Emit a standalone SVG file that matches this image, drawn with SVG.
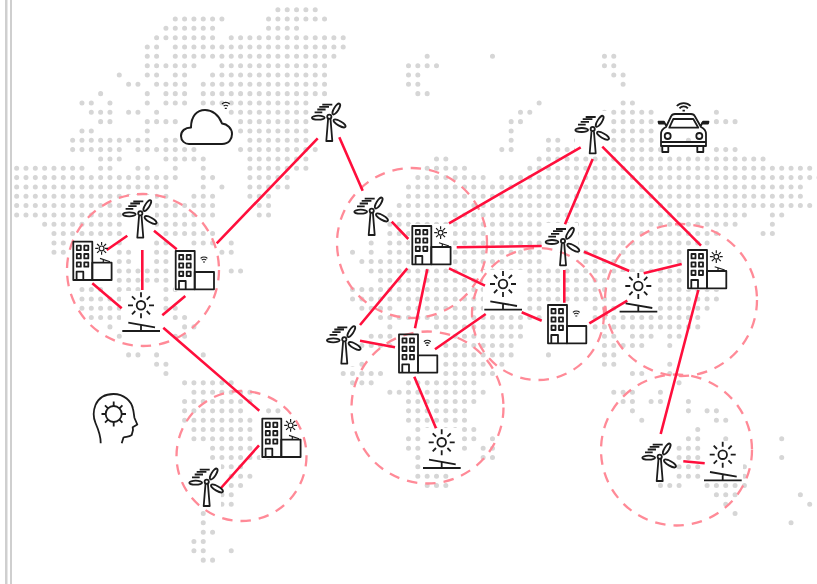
<svg xmlns="http://www.w3.org/2000/svg" xmlns:xlink="http://www.w3.org/1999/xlink" width="817" height="584" viewBox="0 0 817 584">
<style>
.dots{fill:none;stroke:#d6d6d6;stroke-width:.54;stroke-linecap:round;stroke-dasharray:0 1}
.zone{fill:none;stroke:#ff8a97;stroke-width:2.3;stroke-dasharray:10.5 8}
.link{fill:none;stroke:#ff0f3c;stroke-width:2.6}
.ic{fill:none;stroke:#1c1c1c;stroke-width:1.8;stroke-linejoin:round}
.thin{fill:none;stroke:#1c1c1c;stroke-width:1.2}
.wh{fill:#fff;stroke:#1c1c1c;stroke-width:2;stroke-linejoin:round}
</style>
<defs>
<g id="wifi-s"><path class="thin" stroke-width="1.3" d="M-3.4 -3.6A5 5 0 0 1 3.4 -3.6M-2.2 -1.8A3 3 0 0 1 2.2 -1.8M-1 0H1"/></g>
<g id="bld"><rect class="ic" width="19" height="38.3"/><rect class="ic" x="19" y="21" width="19.3" height="17.3"/><path class="ic" stroke-width="1.4" d="M3.5 4h4v4.4h-4zM11 4h4v4.4h-4zM3.5 12.3h4v4.4h-4zM11 12.3h4v4.4h-4zM3.5 20.6h4v4.4h-4zM11 20.6h4v4.4h-4zM3.3 38.3v-8.3h6.7v8.3"/></g>
<g id="bld-wifi"><use xlink:href="#bld"/><use xlink:href="#wifi-s" x="28.3" y="11"/></g>
<g id="bld-solar"><use xlink:href="#bld"/><circle class="thin" cx="28.3" cy="6.7" r="2.4"/><path class="thin" d="M28.3 .3v3M28.3 10v3M21.9 6.7h3M31.7 6.7h3M23.8 2.2l2.1 2.1M30.7 9.1l2.1 2.1M23.8 11.2l2.1-2.1M30.7 4.3l2.1-2.1"/><path class="thin" stroke-width="1.4" d="M26.7 16.7l10 3.3M30 17.8v3.2"/></g>
<g id="turbine"><path class="ic" stroke-width="1.5" d="M-1.2 2.2L-3 24.3H3L1.2 2.2"/><circle class="ic" stroke-width="1.5" r="2.1"/><ellipse class="ic" stroke-width="1.5" cx="7" cy="-7.7" rx="6.3" ry="2.2" transform="rotate(-58 7 -7.7)"/><ellipse class="ic" stroke-width="1.5" cx="-11" cy="1" rx="6.4" ry="2"/><ellipse class="ic" stroke-width="1.5" cx="10.3" cy="6.7" rx="6.8" ry="2.3" transform="rotate(30 10.3 6.7)"/><path class="ic" stroke-width="1.4" d="M-7 -12H3M-10 -9.8H-.3M-12 -7.2H-3.7M-14.7 -4.4H-7"/></g>
<g id="sun"><circle class="ic" r="4.3"/><path class="ic" d="M0 -13V-8M0 8V13M-13 0H-8M8 0H13M-9 -9L-5.7 -5.7M5.7 5.7L9 9M-9 9L-5.7 5.7M5.7 -5.7L9 -9M-18.7 25.7H19M-12.7 17.3L14 22M0 20V25.7"/></g>
</defs>
<rect width="817" height="584" fill="#fff"/>
<path fill="#cfcfcf" d="M5 0h2.5v584H5zM10 0h2v584h-2z"/>
<g transform="translate(7.33 9.67) scale(9.33)"><path class="dots" d="M29 0H33.01
M18 1H23.01M28 1H34.01
M17 2H22.01M28 2H31.01
M16 3H22.01M24 3H36.01
M15 4H16.01M18 4H36.01
M15 5H16.01M18 5H35.01M45 5h.01M52 5h.01M64 5H65.01
M15 6H20.01M23 6H34.01M43 6H46.01M64 6H65.01
M12 7h.01M15 7H16.01M18 7H19.01M22 7H34.01M43 7H44.01M65 7H66.01
M13 8H14.01M16 8H19.01M21 8H34.01M43 8H44.01M66 8h.01
M10 9h.01M15 9h.01M17 9H19.01M21 9H34.01M44 9H45.01
M8 10H9.01M11 10h.01M15 10h.01M17 10H19.01M21 10H34.01M57 10h.01M66 10H67.01
M9 11H11.01M13 11H14.01M16 11h.01M24 11H32.01M55 11H56.01M64 11H69.01M76 11h.01
M10 12H11.01M15 12H18.01M25 12H32.01M54 12H55.01M64 12H69.01M76 12H78.01
M8 13H9.01M15 13h.01M25 13H32.01M54 13h.01M65 13H69.01
M7 14H15.01M17 14H18.01M26 14H33.01M54 14h.01M58 14H59.01M61 14h.01M65 14H69.01M73 14h.01
M7 15H12.01M14 15H20.01M25 15H33.01M53 15H54.01M58 15H61.01M65 15H70.01M76 15H78.01
M10 16H12.01M17 16H21.01M26 16H32.01M46 16H47.01M57 16H81.01
M1 17H8.01M10 17H11.01M14 17H15.01M18 17h.01M21 17h.01M26 17H32.01M45 17H49.01M56 17H86.01
M1 18H18.01M21 18H22.01M26 18H30.01M44 18H51.01M53 18H87.01
M1 19H17.01M21 19h.01M23 19h.01M26 19H30.01M43 19H85.01
M1 20H17.01M20 20H22.01M26 20H28.01M43 20H85.01
M1 21H22.01M27 21H28.01M42 21H86.01
M1 22H22.01M27 22H28.01M41 22H79.01M82 22H83.01
M4 23H20.01M41 23H78.01M82 23h.01
M5 24H12.01M17 24H22.01M38 24h.01M41 24H76.01M81 24H82.01
M5 25H6.01M11 25H12.01M16 25H17.01M20 25H22.01M24 25h.01M39 25h.01M41 25H75.01
M5 26H6.01M11 26H13.01M16 26H17.01M23 26H24.01M37 26h.01M39 26h.01M41 26H75.01
M12 27H13.01M16 27H17.01M38 27H76.01
M12 28H17.01M24 28H25.01M39 28H76.01
M12 29H17.01M40 29H75.01
M8 30H10.01M12 30H14.01M17 30H18.01M37 30H76.01
M8 31H12.01M16 31H17.01M37 31H76.01
M8 32H12.01M16 32H18.01M38 32H41.01M43 32H75.01
M9 33H12.01M18 33H19.01M40 33H74.01
M11 34h.01M19 34H20.01M41 34h.01M46 34H55.01M58 34H59.01M61 34H74.01
M12 35h.01M18 35H19.01M39 35H41.01M48 35H55.01M58 35H59.01M64 35H65.01M67 35H69.01M71 35H72.01
M38 36H41.01M47 36H54.01M64 36H68.01M71 36h.01
M13 37H14.01M16 37h.01M21 37h.01M37 37h.01M47 37H54.01M58 37h.01M64 37H65.01
M16 38H17.01M37 38H38.01M47 38H51.01M53 38h.01M64 38H65.01M71 38h.01
M17 39h.01M36 39H40.01M47 39H52.01M67 39H68.01M71 39h.01
M19 40H24.01M37 40H39.01M43 40H50.01M72 40h.01
M20 41H26.01M41 41H42.01M43 41H51.01M65 41H67.01M70 41h.01
M19 42H26.01M43 42H50.01M66 42H67.01M69 42H70.01M73 42h.01
M19 43H25.01M28 43H29.01M43 43H49.01M67 43h.01M73 43h.01M75 43H76.01
M19 44H26.01M43 44H49.01M68 44h.01M76 44H77.01
M20 45H26.01M44 45H50.01M74 45h.01
M20 46H26.01M43 46H50.01M52 46h.01M73 46H74.01M77 46h.01M83 46h.01
M22 47H26.01M43 47H49.01M51 47H52.01M72 47H75.01
M22 48H28.01M44 48H48.01M51 48H52.01M72 48H75.01M83 48h.01
M23 49H25.01M44 49H48.01M72 49H79.01
M24 50H26.01M44 50H47.01M71 50H74.01M77 50H79.01
M24 51H25.01M45 51H47.01M70 51H72.01M75 51H79.01
M23 52H24.01M76 52H78.01M85 52h.01
M23 53H24.01M77 53h.01M86 53h.01
M21 54h.01M78 54h.01
M21 55h.01M84 55h.01
M21 56H22.01
M20 57H21.01
M20 58H21.01M24 58h.01
M21 59H22.01"/></g>
<g id="halos" fill="#fff">
<rect x="123" y="195" width="32" height="44"/><rect x="312" y="99" width="32" height="44"/><rect x="575" y="111" width="32" height="44"/><rect x="354" y="193" width="32" height="44"/><rect x="327" y="322" width="32" height="44"/><rect x="546" y="223" width="32" height="44"/><rect x="189" y="464" width="32" height="44"/><rect x="642" y="439" width="32" height="44"/>
<rect x="71" y="240" width="43" height="42"/><rect x="174" y="249" width="43" height="42"/><rect x="260" y="417" width="43" height="42"/><rect x="410" y="224" width="43" height="42"/><rect x="397" y="332" width="43" height="42"/><rect x="546" y="303" width="43" height="42"/><rect x="686" y="248" width="43" height="42"/>
<rect x="121" y="291" width="40" height="42"/><rect x="483" y="270" width="40" height="42"/><rect x="618" y="272" width="40" height="42"/><rect x="422" y="428" width="40" height="42"/><rect x="703" y="441" width="40" height="42"/>
</g>
<g id="zones">
<circle class="zone" cx="143" cy="270" r="76"/><circle class="zone" cx="241.5" cy="456" r="65"/><circle class="zone" cx="412" cy="243" r="75"/><circle class="zone" cx="427.5" cy="407.5" r="76"/><circle class="zone" cx="538" cy="314" r="66"/><circle class="zone" cx="681" cy="300" r="76"/><circle class="zone" cx="676.5" cy="450" r="75.5"/>
</g>
<g id="connectors">
<path class="link" d="M127.3 235.7L106.7 250M154 230.7L176.7 249.3M142.3 250V290M92.3 283.3L121.7 308.3M185.3 296L162.3 315.3M163.3 327.7L259.3 410.7M216.7 243.3L317.7 138.3M339.3 137.3L362.7 190.7M221 488L259 445.3M391.7 221.7L408.3 239M449 223.3L580.7 147.3M456.7 247.3L541.7 246M449 268.3L485 285.7M407.3 268.3L360 325M427.3 269.3L415 328.3M360 340.7L395 347.3M435 349.3L485.7 314M521.7 312.3L541.7 320.7M564.3 270V302.7M589.3 323.3L627.3 300.7M584 251.7L629.3 271M643.7 273.3L681.7 264M592.7 159L565 224.3M602.3 146.7L701 245.7M698.3 290L660.7 434M414.3 376.7L436 428.3"/>
<path class="link" stroke-width="3.4" d="M683.3 461.3L704.7 463.3"/>
</g>
<g id="turbine-1"><use xlink:href="#turbine" x="140.3" y="213.3"/></g>
<g id="turbine-2"><use xlink:href="#turbine" x="329.3" y="116.7"/></g>
<g id="turbine-3"><use xlink:href="#turbine" x="592.7" y="129"/></g>
<g id="turbine-4"><use xlink:href="#turbine" x="371.7" y="210.7"/></g>
<g id="turbine-5"><use xlink:href="#turbine" x="344.3" y="339.3"/></g>
<g id="turbine-6"><use xlink:href="#turbine" x="563" y="241"/></g>
<g id="turbine-7"><use xlink:href="#turbine" x="206.7" y="481.7"/></g>
<g id="turbine-8"><use xlink:href="#turbine" x="659.7" y="456.7"/></g>
<g id="building-1"><use xlink:href="#bld-solar" x="73.3" y="241.7"/></g>
<g id="building-2"><use xlink:href="#bld-wifi" x="175.7" y="251"/></g>
<g id="building-3"><use xlink:href="#bld-solar" x="262.3" y="418.7"/></g>
<g id="building-4"><use xlink:href="#bld-solar" x="412.3" y="226"/></g>
<g id="building-5"><use xlink:href="#bld-wifi" x="399" y="334.3"/></g>
<g id="building-6"><use xlink:href="#bld-wifi" x="548" y="305"/></g>
<g id="building-7"><use xlink:href="#bld-solar" x="688" y="250"/></g>
<g id="solar-1"><use xlink:href="#sun" x="141" y="305.3"/></g>
<g id="solar-2"><use xlink:href="#sun" x="503" y="284"/></g>
<g id="solar-3"><use xlink:href="#sun" x="638.3" y="286"/></g>
<g id="solar-4"><use xlink:href="#sun" x="441.7" y="442.3"/></g>
<g id="solar-5"><use xlink:href="#sun" x="722.7" y="454.7"/></g>
<g id="cloud"><path class="wh" d="M189 144H222C229 144 232 139 232 134C232 128 227 124 222 123.5C219 115 212 110 205 110C197 110 191 116 191 127.5C185 127.5 181 131 181 136C181 141 185 144 189 144Z"/><path class="thin" stroke-width="1.6" d="M222 104A5.2 5.2 0 0 1 229.6 104M223.6 106.2A3 3 0 0 1 228 106.2M224.8 108.4H226.8"/></g>
<g id="car"><path class="ic" stroke-width="2" d="M661 146V134Q661 129.500 666 127L671 116.500Q672 114 675 114H691Q694 114 695 116.500L701 127Q706 129.500 706 134V146ZM669.300 127.700L673.300 119H693.300L698.300 127.700ZM661 142H706M662.300 147V152H668.300V147M697.300 147V152H703.300V147M665.500 123.500H659L658.500 121.700H664L666 125.500M701 123.500H708L708.500 121.700H703L701 125.500"/><circle class="ic" stroke-width="2" cx="667.700" cy="136" r="3"/><circle class="ic" stroke-width="2" cx="699.300" cy="136" r="3"/><path class="ic" d="M676.800 106A9.500 9.500 0 0 1 690.600 106M679.500 108.400A5.500 5.500 0 0 1 687.900 108.400M682.500 110.600H684.900"/></g>
<g id="brain"><path class="ic" d="M100.700 443.300C101 436 99 431 95.500 423C93 417 93.500 410 95.500 405C99 397 106 394 113.500 394C124 394 131.500 401 133 409C134 413 134 416 134.500 418L137.300 424.500L132.700 427.300L133 430L131.700 435C129 437 126 436.500 123.500 437.500L121.700 443.300"/><circle class="ic" cx="113.700" cy="414" r="8"/><path class="ic" d="M113.700 406V401.500M113.700 422V426.500M105.700 414H101.500M121.700 414H126M108 408.300L105 405.300M119.400 419.700L122.400 422.700M108 419.700L105 422.700M119.400 408.300L122.400 405.300"/></g>
</svg>
